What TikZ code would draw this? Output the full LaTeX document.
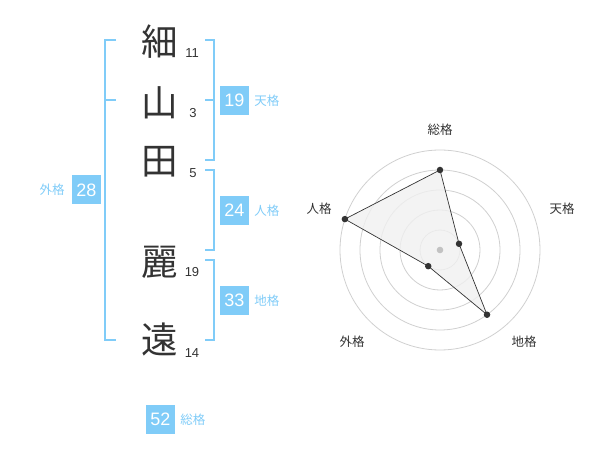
\documentclass[tikz,border=0pt]{standalone}
\usepackage{fontspec}
\setmainfont{Liberation Sans}
\newfontfamily\jpfont{Noto Sans CJK JP}
\usetikzlibrary{positioning}
\definecolor{kakublue}{HTML}{80CCF8}
\definecolor{inkgray}{HTML}{333333}
\definecolor{ringgray}{HTML}{D0D0D0}
\definecolor{areagray}{HTML}{F0F0F0}

\begin{document}
\begin{tikzpicture}[x=1pt, y=-1pt, node distance=5pt,
	moji/.style={inner sep=0pt, text=inkgray, font=\jpfont\fontsize{36.5}{36.5}\selectfont},
	kakusu/.style={inner sep=0pt, text=inkgray, font=\fontsize{13}{13}\selectfont},
	kakubox/.style={rectangle, fill=kakublue, text=white, minimum size=29pt, inner sep=0pt, font=\fontsize{18}{18}\selectfont},
	kakuname/.style={inner sep=0pt, text=kakublue, font=\jpfont\fontsize{12.5}{12.5}\selectfont},
	bracket/.style={draw=kakublue, line width=1.7pt},
	ring/.style={draw=ringgray, line width=0.8pt},
	axisname/.style={inner sep=0pt, text=inkgray, font=\jpfont\fontsize{12.5}{12.5}\selectfont},
	pt/.style={circle, fill=inkgray, minimum size=6.5pt, inner sep=0pt}]
	\path[use as bounding box] (0,0) rectangle (600,470);
	\node[moji] (m1) at (160,42) {細};
	\node[moji] (m2) at (160,103) {山};
	\node[moji] (m3) at (160,162) {田};
	\node[moji] (m4) at (160,262) {麗};
	\node[moji] (m5) at (160,340) {遠};
	\node[kakusu] (s1) at (192,53) {11};
	\node[kakusu] (s2) at (193,113) {3};
	\node[kakusu] (s3) at (193,173) {5};
	\node[kakusu] (s4) at (192,272) {19};
	\node[kakusu] (s5) at (192,353) {14};
	\draw[bracket] (116,40) -- (105,40) -- (105,340) -- (116,340);
	\draw[bracket] (105,100) -- (116,100);
	\draw[bracket] (205,40) -- (214,40) -- (214,160) -- (205,160);
	\draw[bracket] (205,100) -- (214,100);
	\draw[bracket] (205,170) -- (214,170) -- (214,250) -- (205,250);
	\draw[bracket] (205,260) -- (214,260) -- (214,340) -- (205,340);
	\node[kakubox] (gai) at (86.5,190) {28};
	\node[kakuname, left=7pt of gai] (gai-name) {外格};
	\node[kakubox] (ten) at (234.5,100.5) {19};
	\node[kakuname, right=of ten] (ten-name) {天格};
	\node[kakubox] (jin) at (234.5,210.5) {24};
	\node[kakuname, right=of jin] (jin-name) {人格};
	\node[kakubox] (chi) at (234.5,300.5) {33};
	\node[kakuname, right=of chi] (chi-name) {地格};
	\node[kakubox] (sou) at (160.5,419.5) {52};
	\node[kakuname, right=of sou] (sou-name) {総格};
	\begin{scope}[shift={(440,250)}, yscale=-1]
		\foreach \r in {20,40,...,100}
			\draw[ring] (0,0) circle (\r);
		\coordinate (p-sou) at (90:80);
		\coordinate (p-ten) at (18:20);
		\coordinate (p-chi) at (-54:80);
		\coordinate (p-gai) at (-126:20);
		\coordinate (p-jin) at (162:100);
		\filldraw[fill=areagray, fill opacity=0.8, draw=inkgray, line width=0.7pt] (p-sou) -- (p-ten) -- (p-chi) -- (p-gai) -- (p-jin) -- cycle;
		\fill[ringgray!90!black!90] (0,0) circle (3.3);
		\foreach \p in {p-sou,p-ten,p-chi,p-gai,p-jin}
			\node[pt] at (\p) {};
	\end{scope}
	\node[axisname] (a-sou) at (440,130) {総格};
	\node[axisname] (a-ten) at (562,209) {天格};
	\node[axisname] (a-jin) at (319,209) {人格};
	\node[axisname] (a-gai) at (352,342) {外格};
	\node[axisname] (a-chi) at (524,342) {地格};
\end{tikzpicture}
\end{document}
